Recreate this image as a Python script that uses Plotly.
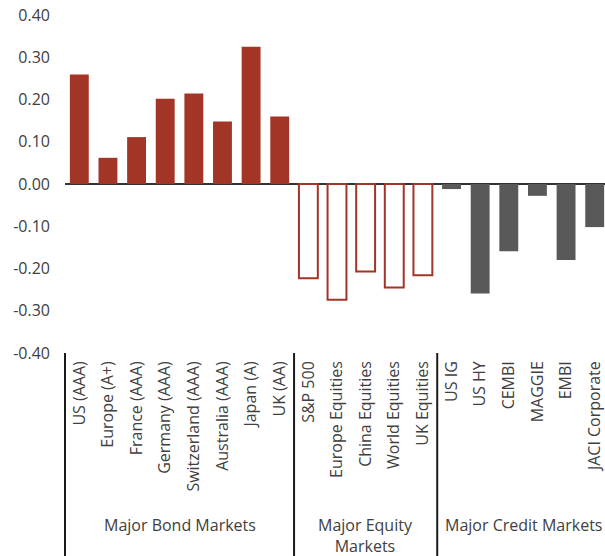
import plotly.graph_objects as go

bond_names = ["US (AAA)", "Europe (A+)", "France (AAA)", "Germany (AAA)",
              "Switzerland (AAA)", "Australia (AAA)", "Japan (A)", "UK (AA)"]
bond_values = [0.259, 0.062, 0.111, 0.202, 0.214, 0.148, 0.325, 0.160]

equity_names = ["S&P 500", "Europe Equities", "China Equities", "World Equities", "UK Equities"]
equity_values = [-0.223, -0.274, -0.207, -0.245, -0.216]

credit_names = ["US IG", "US HY", "CEMBI", "MAGGIE", "EMBI", "JACI Corporate"]
credit_values = [-0.012, -0.259, -0.159, -0.028, -0.180, -0.102]

group_labels = ["Major Bond Markets", "Major Equity<br>Markets", "Major Credit Markets"]

y_tickvals = [0.4, 0.3, 0.2, 0.1, 0.0, -0.1, -0.2, -0.3, -0.4]
y_ticktext = ["0.40", "0.30", "0.20", "0.10", "0.00", "-0.10", "-0.20", "-0.30", "-0.40"]

RED = "#A33526"
GREY = "#595959"
TXT = "#404040"
FONT = "Open Sans"

all_names = bond_names + equity_names + credit_names

fig = go.Figure()
fig.add_trace(go.Bar(x=bond_names, y=bond_values, marker=dict(color=RED, line=dict(width=0))))
fig.add_trace(go.Bar(x=equity_names, y=equity_values,
                     marker=dict(color="white", line=dict(color=RED, width=2))))
fig.add_trace(go.Bar(x=credit_names, y=credit_values, marker=dict(color=GREY, line=dict(width=0))))

n_bond = len(bond_names)
n_eq = len(equity_names)
n_all = len(all_names)

# group separators (category boundaries)
sep_pos = [n_bond - 0.5, n_bond + n_eq - 0.5]
shapes = [dict(type="line", xref="paper", yref="paper", x0=0, x1=0, y0=0, y1=-0.61,
               line=dict(color="#1a1a1a", width=2))]
for p in sep_pos:
    shapes.append(dict(type="line", xref="x", yref="paper", x0=p, x1=p, y0=0, y1=-0.61,
                       line=dict(color="#1a1a1a", width=2)))

group_centers = [(n_bond - 1) / 2, n_bond + (n_eq - 1) / 2, n_bond + n_eq + (len(credit_names) - 1) / 2]
group_y = [-0.509, -0.541, -0.509]
annotations = []
for lbl, cx, gy in zip(group_labels, group_centers, group_y):
    annotations.append(dict(text=lbl, x=cx, xref="x", y=gy, yref="paper", showarrow=False,
                            xanchor="center", yanchor="middle",
                            font=dict(family=FONT, size=16, color=TXT)))

fig.update_layout(
    width=605, height=556,
    margin=dict(l=65, r=0, t=15, b=203),
    paper_bgcolor="white", plot_bgcolor="white",
    barmode="overlay", bargap=0.34,
    showlegend=False,
    shapes=shapes, annotations=annotations,
    font=dict(family=FONT, size=16, color=TXT),
    xaxis=dict(type="category", categoryorder="array", categoryarray=all_names,
               range=[-0.5, n_all - 0.64], tickangle=-90, showgrid=False,
               showline=False, ticks="", tickfont=dict(family=FONT, size=16, color=TXT),
               ticklabelstandoff=4, fixedrange=True),
    yaxis=dict(range=[-0.4, 0.4], tickvals=y_tickvals, ticktext=y_ticktext,
               showgrid=False, showline=False, ticks="", zeroline=True,
               zerolinecolor="#333333", zerolinewidth=2,
               tickfont=dict(family=FONT, size=16, color=TXT), ticklabelstandoff=14),
)

fig.write_html("out.html")
